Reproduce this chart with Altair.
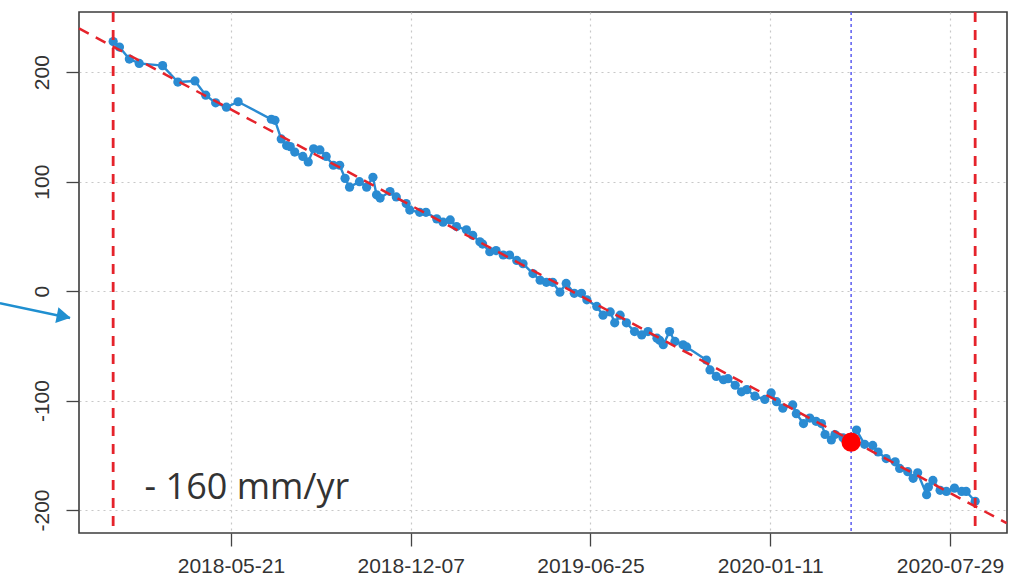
import altair as alt
import pandas as pd

# ---- data ----
dates = [
    "2018-01-10", "2018-01-17", "2018-01-28", "2018-02-08", "2018-03-06", "2018-03-23",
    "2018-04-11", "2018-04-23", "2018-05-04", "2018-05-16", "2018-05-29", "2018-07-05",
    "2018-07-09", "2018-07-16", "2018-07-22", "2018-07-26", "2018-07-31", "2018-08-09",
    "2018-08-15", "2018-08-21", "2018-08-28", "2018-09-04", "2018-09-12", "2018-09-19",
    "2018-09-25", "2018-09-30", "2018-10-11", "2018-10-19", "2018-10-26", "2018-10-30",
    "2018-11-03", "2018-11-14", "2018-11-21", "2018-12-02", "2018-12-06", "2018-12-17",
    "2018-12-24", "2019-01-05", "2019-01-12", "2019-01-20", "2019-01-27", "2019-02-07",
    "2019-02-14", "2019-02-22", "2019-02-25", "2019-03-05", "2019-03-12", "2019-03-20",
    "2019-03-27", "2019-04-04", "2019-04-11", "2019-04-22", "2019-04-30", "2019-05-07",
    "2019-05-14", "2019-05-22", "2019-05-29", "2019-06-07", "2019-06-15", "2019-06-21",
    "2019-07-02", "2019-07-09", "2019-07-17", "2019-07-22", "2019-07-28", "2019-08-04",
    "2019-08-13", "2019-08-21", "2019-08-28", "2019-09-07", "2019-09-10", "2019-09-14",
    "2019-09-21", "2019-09-27", "2019-10-06", "2019-10-10", "2019-11-01", "2019-11-05",
    "2019-11-12", "2019-11-20", "2019-11-25", "2019-12-03", "2019-12-10", "2019-12-16",
    "2019-12-25", "2020-01-05", "2020-01-12", "2020-01-18", "2020-01-25", "2020-02-05",
    "2020-02-09", "2020-02-17", "2020-02-24", "2020-03-02", "2020-03-08", "2020-03-12",
    "2020-03-19", "2020-03-23", "2020-04-01", "2020-04-10", "2020-04-16", "2020-04-25",
    "2020-05-04", "2020-05-10", "2020-05-19", "2020-05-29", "2020-06-03", "2020-06-12",
    "2020-06-18", "2020-06-23", "2020-07-03", "2020-07-05", "2020-07-10", "2020-07-18",
    "2020-07-25", "2020-08-03", "2020-08-11", "2020-08-16", "2020-08-26",
]
values = [
    228, 223, 212, 208, 206, 191,
    192, 179, 172, 168, 173, 157,
    156, 139, 133, 132, 127, 123,
    118, 130, 129, 123, 115, 115,
    103, 95, 100, 95, 104, 88,
    85, 91, 86, 80, 74, 72,
    72, 66, 63, 65, 59, 56,
    51, 45, 43, 36, 37, 33,
    33, 28, 25, 16, 10, 8,
    8, -1, 7, -2, -2, -8,
    -14, -22, -19, -29, -22, -29,
    -37, -40, -37, -43, -45, -49,
    -37, -46, -49, -51, -63, -72,
    -78, -81, -80, -86, -92, -90,
    -96, -99, -93, -101, -107, -104,
    -112, -121, -116, -119, -121, -131,
    -136, -131, -134, -138, -127, -140,
    -141, -147, -153, -156, -162, -165,
    -171, -166, -186, -179, -173, -182,
    -183, -180, -183, -183, -192,
]

x_tick_dates = ["2018-05-21", "2018-12-07", "2019-06-25", "2020-01-11", "2020-07-29"]
y_tick_values = [-200, -100, 0, 100, 200]

window_dates = ["2018-01-10", "2020-08-26"]      # red dashed verticals
event_date = ["2020-04-10"]                       # blue dotted vertical
event_value = [-138]                              # big red point

trend_dates = ["2017-12-03", "2020-09-30"]
trend_values = [240, -212]

label_text = ["- 160 mm/yr"]
label_date = ["2018-02-14"]
label_value = [-190]

arrow_dates = ["2017-09-06", "2017-11-23"]
arrow_values = [-11, -24.5]
arrow_head_date = ["2017-11-16"]
arrow_head_value = [-23.2]

# ---- styling ----
BLUE = "#2a8bd2"
RED = "#e5232b"
FONT = "Liberation Sans"


def dt(s, h=0):
    y, m, d = (int(p) for p in s.split("-"))
    return alt.DateTime(year=y, month=m, date=d, hours=h, utc=True)


x_scale = alt.Scale(type="utc", domain=[dt("2017-12-03"), dt("2020-09-30", 10)])
y_scale = alt.Scale(domain=[-221, 255], nice=False, zero=False)

series = pd.DataFrame({"date": dates, "value": values})

x_axis = alt.Axis(
    values=[dt(s) for s in x_tick_dates],
    labelExpr="utcFormat(datum.value, '%Y-%m-%d')",
    title=None, domain=False, tickSize=13, tickWidth=1.3, tickColor="#444444",
    labelFont=FONT, labelFontSize=21, labelColor="#333333", labelPadding=9,
    grid=True, gridDash=[2, 4], gridColor="#c8c8c8", gridWidth=1.2, labelFlush=False,
)
y_axis = alt.Axis(
    values=y_tick_values, labelExpr="'' + datum.value",
    title=None, domain=False, tickSize=13, tickWidth=1.3,
    tickColor="#444444", labelFont=FONT, labelFontSize=21, labelColor="#333333",
    labelAngle=270, labelAlign="center", labelBaseline="bottom", labelPadding=14,
    grid=True, gridDash=[2, 4], gridColor="#c8c8c8", gridWidth=1.2,
)


def X(field="date"):
    return alt.X(f"{field}:T", scale=x_scale, axis=x_axis)


def Y(field="value"):
    return alt.Y(f"{field}:Q", scale=y_scale, axis=y_axis)


line = alt.Chart(series).mark_line(color=BLUE, strokeWidth=2.4).encode(x=X(), y=Y())
pts = alt.Chart(series).mark_circle(color=BLUE, size=85, opacity=1).encode(x=X(), y=Y())

trend = alt.Chart(pd.DataFrame({"date": trend_dates, "value": trend_values})).mark_line(
    color=RED, strokeWidth=2.5, strokeDash=[11, 8]
).encode(x=X(), y=Y())

vlines = alt.Chart(pd.DataFrame({"date": window_dates})).mark_rule(
    color=RED, strokeWidth=2.8, strokeDash=[10, 8]
).encode(x=X())

event_line = alt.Chart(pd.DataFrame({"date": event_date})).mark_rule(
    color="#5c5cf0", strokeWidth=1.5, strokeDash=[3, 3]
).encode(x=X())

event_pt = alt.Chart(pd.DataFrame({"date": event_date, "value": event_value})).mark_circle(
    color="#ff0000", size=370, opacity=1
).encode(x=X(), y=Y())

label = alt.Chart(pd.DataFrame({"date": label_date, "value": label_value, "t": label_text})).mark_text(
    font="Open Sans", fontSize=36, color="#333333", align="left", baseline="alphabetic"
).encode(x=X(), y=Y(), text="t:N")

arrow_df = pd.DataFrame({"date": [arrow_dates[0]], "value": [arrow_values[0]],
                         "date2": [arrow_dates[1]], "value2": [arrow_values[1]]})
arrow = alt.Chart(arrow_df).mark_rule(color="#1f8fd0", strokeWidth=2.5, clip=False).encode(
    x=X(), y=Y(), x2="date2:T", y2="value2:Q",
)
arrow_head = alt.Chart(pd.DataFrame({"date": arrow_head_date, "value": arrow_head_value})).mark_point(
    shape="triangle-right", filled=True, color="#1f8fd0", size=260, opacity=1, angle=11, clip=False
).encode(x=X(), y=Y())

chart = alt.layer(
    line, pts, trend, vlines, event_line, event_pt, label, arrow, arrow_head
).properties(
    width=928, height=521,
    background="white",
    autosize=alt.AutoSizeParams(type="none"),
    padding={"left": 79, "top": 12, "right": 17, "bottom": 49},
).configure_view(
    stroke="#3c3c3c", strokeWidth=1.6
)

chart.save("out.html", embed_options={"renderer": "svg", "actions": False})
